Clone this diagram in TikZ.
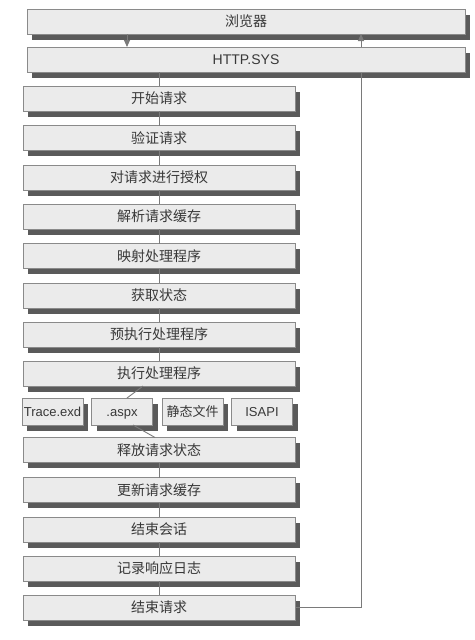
\documentclass[tikz,border=0pt]{standalone}
\usepackage{fontspec}
\setmainfont{Liberation Sans}
\newfontfamily\cjk{Noto Sans CJK SC}
\usetikzlibrary{arrows.meta,backgrounds}
\definecolor{boxfill}{HTML}{EBEBEB}
\definecolor{boxline}{HTML}{8A8A8A}
\definecolor{shade}{HTML}{5A5A5A}
\definecolor{txt}{HTML}{383838}
\definecolor{wire}{HTML}{7A7A7A}
\tikzset{
  stagebox/.style={draw=boxline, line width=0.9pt, fill=boxfill, inner sep=0pt, outer sep=0pt,
    minimum height=25pt, text height=11pt, text depth=1pt, text=txt, font=\fontsize{14}{16}\selectfont},
  wide/.style={stagebox, minimum width=438pt},
  main/.style={stagebox, minimum width=272pt},
  small/.style={stagebox, minimum width=61pt, minimum height=27pt, font=\fontsize{13}{16}\selectfont},
  wire/.style={draw=wire, line width=0.9pt},
  arr/.style={wire, -{Triangle[width=6pt,length=7pt]}},
  shadowbox/.style={fill=shade}
}
\begin{document}
\begin{tikzpicture}[x=1pt,y=-1pt]
\useasboundingbox (0,0) rectangle (474,640);
\coordinate (ret) at (361,0);
\coordinate (down) at (127,0);
\node[wide] (browser) at (246,21.5) {\cjk 浏览器};
\node[wide] (http) at (246,59.5) {HTTP.SYS};
\node[main] (m1) at (159,98.5) {\cjk 开始请求};
\node[main] (m2) at (159,138) {\cjk 验证请求};
\node[main] (m3) at (159,177.5) {\cjk 对请求进行授权};
\node[main] (m4) at (159,216.5) {\cjk 解析请求缓存};
\node[main] (m5) at (159,256) {\cjk 映射处理程序};
\node[main] (m6) at (159,295.5) {\cjk 获取状态};
\node[main] (m7) at (159,334.5) {\cjk 预执行处理程序};
\node[main] (m8) at (159,373.5) {\cjk 执行处理程序};
\node[small] (s1) at (52.5,411.5) {Trace.exd};
\node[small] (s2) at (122,411.5) {.aspx};
\node[small] (s3) at (192.5,411.5) {\cjk 静态文件};
\node[small] (s4) at (262,411.5) {ISAPI};
\node[main] (m9) at (159,450) {\cjk 释放请求状态};
\node[main] (m10) at (159,490) {\cjk 更新请求缓存};
\node[main] (m11) at (159,529.5) {\cjk 结束会话};
\node[main] (m12) at (159,568.5) {\cjk 记录响应日志};
\node[main] (m13) at (159,607.5) {\cjk 结束请求};
% connectors and shadows behind the boxes
\begin{scope}[on background layer]
\foreach \n in {browser,http,m1,m2,m3,m4,m5,m6,m7,m8,s1,s2,s3,s4,m9,m10,m11,m12,m13}
  \fill[shadowbox] ([shift={(5,5.5)}]\n.north west) rectangle ([shift={(5,5.5)}]\n.south east);
\draw[wire] (m13.east) -| (http.south -| ret);
\end{scope}
\draw[arr] (browser.south -| down) -- (http.north -| down);
\draw[wire] (http.south -| m1.north) -- (m1.north);
\foreach \a/\b in {m1/m2,m2/m3,m3/m4,m4/m5,m5/m6,m6/m7,m7/m8,m9/m10,m10/m11,m11/m12,m12/m13}
  \draw[wire] (\a.south) -- (\b.north);
\draw[wire] ([xshift=-16pt]m8.south) -- ([xshift=5pt]s2.north);
\draw[wire] ([xshift=11pt]s2.south) -- ([xshift=-4pt]m9.north);
\draw[arr] (http.north -| ret) -- (browser.south -| ret);
\end{tikzpicture}
\end{document}
